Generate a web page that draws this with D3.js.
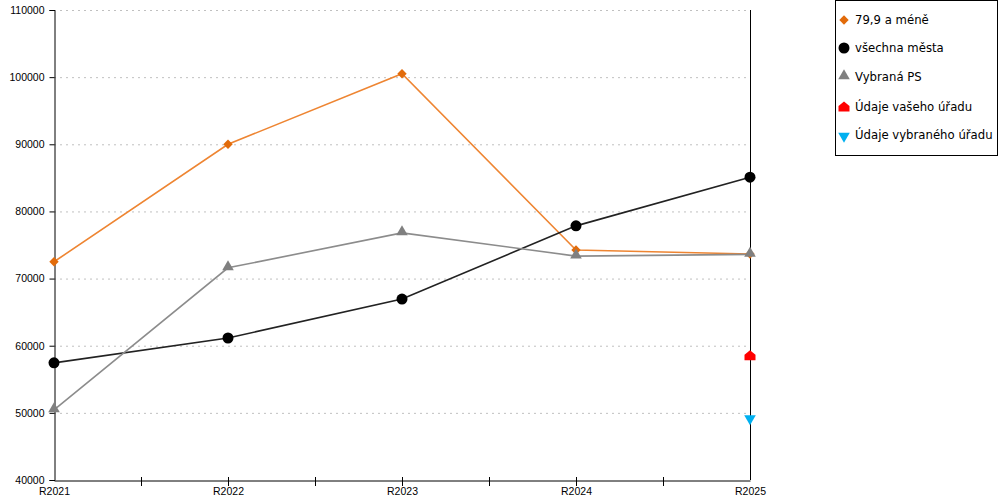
<!DOCTYPE html>
<html>
<head>
<meta charset="utf-8">
<script src="https://cdn.jsdelivr.net/npm/d3@7"></script>
<style>
  body { margin: 0; background: #fff; }
  svg { display: block; font-family: "DejaVu Sans", Verdana, sans-serif; }
</style>
</head>
<body>
<div id="chart"></div>
<script>
// categories and series
var years = ['R2021', 'R2022', 'R2023', 'R2024', 'R2025'];
var mene = [72500, 90000, 100500, 74250, 73650];
var vsechnaMesta = [57450, 61150, 66950, 77850, 85100];
var vybranaPS = [50450, 71600, 76800, 73350, 73600];
var vasUrad = [null, null, null, null, 58500];
var vybranyUrad = [null, null, null, null, 49300];
var yTicks = [40000, 50000, 60000, 70000, 80000, 90000, 100000, 110000];

var series = [
  {name: '79,9 a méně', values: mene, line: '#ee8532', fill: '#e26b0a', symbol: d3.symbolSquare, size: 44, rot: 45, dy: 0},
  {name: 'všechna města', values: vsechnaMesta, line: '#222222', fill: '#000000', symbol: d3.symbolCircle, size: 95, rot: 0, dy: 0},
  {name: 'Vybraná PS', values: vybranaPS, line: '#8c8c8c', fill: '#808080', symbol: d3.symbolTriangle, size: 58, rot: 0, dy: -1},
  {name: 'Údaje vašeho úřadu', values: vasUrad, line: '#ff0000', fill: '#ff0000', symbol: 'house', size: 0, rot: 0, dy: 0},
  {name: 'Údaje vybraného úřadu', values: vybranyUrad, line: '#00b0f0', fill: '#00b0f0', symbol: d3.symbolTriangle, size: 58, rot: 180, dy: 1}
];

var W = 1000, H = 500;
var margin = {top: 10, right: 250, bottom: 20, left: 54};

var svg = d3.select('#chart').append('svg')
  .attr('width', W).attr('height', H);

var x = d3.scalePoint()
  .domain(years)
  .range([margin.left, W - margin.right]);

var y = d3.scaleLinear()
  .domain([40000, 110000])
  .range([H - margin.bottom, margin.top]);

// grid lines
svg.append('g')
  .selectAll('line')
  .data(yTicks.slice(1))
  .join('line')
  .attr('x1', margin.left).attr('x2', W - margin.right)
  .attr('y1', d => y(d) + 0.5).attr('y2', d => y(d) + 0.5)
  .attr('stroke', '#c0c0c0')
  .attr('stroke-dasharray', '2,4');

// y axis
var yAxis = svg.append('g')
  .attr('transform', 'translate(' + (margin.left + 0.5) + ',0)')
  .call(d3.axisLeft(y).tickValues(yTicks).tickSize(5).tickFormat(d3.format('d')));
yAxis.select('.domain').attr('stroke', '#000');
yAxis.selectAll('.tick line').attr('stroke', '#000');
yAxis.selectAll('.tick text')
  .attr('x', -10)
  .style('font-size', '10.5px')
  .attr('fill', '#000');

// right border line
svg.append('line')
  .attr('x1', W - margin.right + 0.5).attr('x2', W - margin.right + 0.5)
  .attr('y1', margin.top).attr('y2', H - margin.bottom)
  .attr('stroke', '#000');

// x axis
var xAxis = svg.append('g')
  .attr('transform', 'translate(0,' + (H - margin.bottom + 0.5) + ')')
  .call(d3.axisBottom(x).tickSize(0).tickPadding(7));
xAxis.select('.domain').attr('stroke', '#000');
xAxis.selectAll('.tick text')
  .style('font-size', '10.5px')
  .attr('fill', '#000');

// tick marks crossing the x axis (category ticks and midpoints)
var step = x.step();
var tickPos = [];
years.forEach(function(d, i) {
  if (i > 0 && i < years.length - 1) tickPos.push(x(d));
  if (i < years.length - 1) tickPos.push(x(d) + step / 2);
});
svg.append('g')
  .selectAll('line')
  .data(tickPos)
  .join('line')
  .attr('x1', d => Math.round(d) + 0.5).attr('x2', d => Math.round(d) + 0.5)
  .attr('y1', H - margin.bottom - 3).attr('y2', H - margin.bottom + 6)
  .attr('stroke', '#000');

function housePath(s) {
  // small pentagon "house" marker pointing up
  return 'M0,' + (-s) + 'L' + s + ',' + (-s * 0.2) + 'L' + s + ',' + s * 0.8 +
    'L' + (-s) + ',' + s * 0.8 + 'L' + (-s) + ',' + (-s * 0.2) + 'Z';
}

function markerPath(s) {
  if (s.symbol === 'house') return housePath(5.5);
  return d3.symbol().type(s.symbol).size(s.size)();
}

var line = d3.line()
  .defined(d => d.v != null)
  .x(d => x(d.year))
  .y(d => y(d.v));

series.forEach(function(s) {
  var pts = years.map((yr, i) => ({year: yr, v: s.values[i]}));
  svg.append('path')
    .datum(pts)
    .attr('fill', 'none')
    .attr('stroke', s.line)
    .attr('stroke-width', 1.6)
    .attr('d', line);
});

series.forEach(function(s) {
  var pts = years.map((yr, i) => ({year: yr, v: s.values[i]})).filter(d => d.v != null);
  svg.append('g')
    .selectAll('path')
    .data(pts)
    .join('path')
    .attr('d', markerPath(s))
    .attr('fill', s.fill)
    .attr('transform', d => 'translate(' + x(d.year) + ',' + (y(d.v) + s.dy) + ') rotate(' + s.rot + ')');
});

// legend
var lg = svg.append('g');
lg.append('rect')
  .attr('x', 835.5).attr('y', 0.5)
  .attr('width', 162).attr('height', 155)
  .attr('fill', '#fff')
  .attr('stroke', '#000');

var legendY = [20, 48, 77, 107, 135];
series.forEach(function(s, i) {
  var g = lg.append('g').attr('transform', 'translate(844,' + legendY[i] + ')');
  g.append('path')
    .attr('d', markerPath(s))
    .attr('fill', s.fill)
    .attr('transform', 'translate(0,' + s.dy + ') rotate(' + s.rot + ')');
  g.append('text')
    .attr('x', 11)
    .attr('dy', '0.35em')
    .style('font-size', '11.7px')
    .attr('fill', '#000')
    .text(s.name);
});
</script>
</body>
</html>
